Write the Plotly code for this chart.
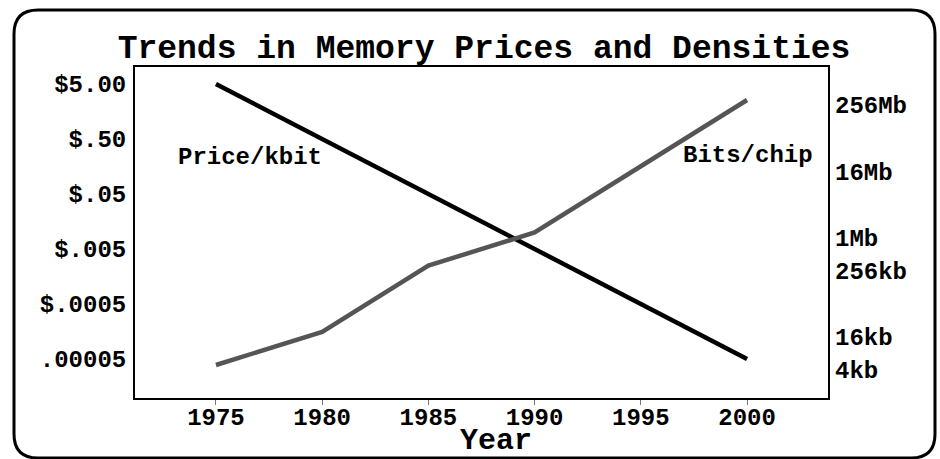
import plotly.graph_objects as go

# ---- data ----
years = [1975, 1980, 1985, 1990, 1995, 2000]
price_per_kbit = [5.0, 0.5, 0.05, 0.005, 0.0005, 0.00005]
bits_per_chip = [4096, 16384, 262144, 1048576, 16777216, 268435456]

x_ticks = [1975, 1980, 1985, 1990, 1995, 2000]
price_tickvals = [5.0, 0.5, 0.05, 0.005, 0.0005, 0.00005]
price_ticktext = ["$5.00", "$.50", "$.05", "$.005", "$.0005", ".00005"]
bits_tickvals = [4096, 16384, 262144, 1048576, 16777216, 268435456]
bits_ticktext = ["4kb", "16kb", "256kb", "1Mb", "16Mb", "256Mb"]

TITLE = "Trends in Memory Prices and Densities"
FONT = "Courier New, Liberation Mono, monospace"

W, H = 940, 459
L, R, T, B = 135, 112, 67, 61
PW, PH = W - L - R, H - T - B


def px(x):
    return (x - L) / PW


def py(y):
    return (H - B - y) / PH


fig = go.Figure()
fig.add_trace(go.Scatter(x=years, y=price_per_kbit, mode="lines",
                         line=dict(color="black", width=4.5),
                         yaxis="y", showlegend=False, hoverinfo="skip"))
fig.add_trace(go.Scatter(x=years, y=bits_per_chip, mode="lines",
                         line=dict(color="#555555", width=4.5),
                         yaxis="y2", showlegend=False, hoverinfo="skip"))

tickfont = dict(family=FONT, size=24, color="black", weight="bold")

fig.update_layout(
    width=W, height=H,
    margin=dict(l=L, r=R, t=T, b=B, pad=0),
    paper_bgcolor="white", plot_bgcolor="white",
    title=dict(text=TITLE, x=484 / W, xanchor="center", xref="container",
               y=1 - 46 / H, yanchor="middle", yref="container",
               font=dict(family=FONT, size=33, color="black", weight="bold")),
    xaxis=dict(range=[1971.19, 2003.81], tickvals=x_ticks,
               ticktext=[str(v) for v in x_ticks],
               ticks="outside", ticklen=5, tickwidth=1, tickcolor="#777777",
               showline=True, linewidth=2, linecolor="black", mirror=True,
               showgrid=False, zeroline=False, tickfont=tickfont,
               ticklabelstandoff=-9),
    yaxis=dict(type="log", range=[-5.010, 1.008], tickvals=price_tickvals,
               ticktext=price_ticktext, ticks="",
               showline=True, linewidth=2, linecolor="black", mirror=True,
               showgrid=False, zeroline=False, tickfont=tickfont,
               ticklabelstandoff=2),
    yaxis2=dict(type="log", range=[3.0126, 9.0286], overlaying="y", side="right",
                tickvals=bits_tickvals, ticktext=bits_ticktext, ticks="",
                showline=False, showgrid=False, zeroline=False,
                tickfont=tickfont, ticklabelstandoff=6, ticklabelshift=5),
)

fig.add_annotation(text="Price/kbit", x=px(250), y=py(157), xref="paper", yref="paper",
                   showarrow=False, xanchor="center", yanchor="middle",
                   font=dict(family=FONT, size=24, color="black", weight="bold"))
fig.add_annotation(text="Bits/chip", x=px(748), y=py(155), xref="paper", yref="paper",
                   showarrow=False, xanchor="center", yanchor="middle",
                   font=dict(family=FONT, size=24, color="black", weight="bold"))
fig.add_annotation(text="Year", x=px(496), y=py(441), xref="paper", yref="paper",
                   showarrow=False, xanchor="center", yanchor="middle",
                   font=dict(family=FONT, size=30, color="black", weight="bold"))

# rounded border frame
x0, x1, y0, y1, r = 14, 935, 10, 458, 24
path = (f"M {px(x0)},{py(y0 + r)} Q {px(x0)},{py(y0)} {px(x0 + r)},{py(y0)} "
        f"L {px(x1 - r)},{py(y0)} Q {px(x1)},{py(y0)} {px(x1)},{py(y0 + r)} "
        f"L {px(x1)},{py(y1 - r)} Q {px(x1)},{py(y1)} {px(x1 - r)},{py(y1)} "
        f"L {px(x0 + r)},{py(y1)} Q {px(x0)},{py(y1)} {px(x0)},{py(y1 - r)} Z")
fig.add_shape(type="path", path=path, xref="paper", yref="paper",
              line=dict(color="black", width=3), layer="above")

fig.write_html("out.html",
               config={"displayModeBar": False},
               post_script="document.body.style.margin='0';document.body.style.overflow='hidden';")
